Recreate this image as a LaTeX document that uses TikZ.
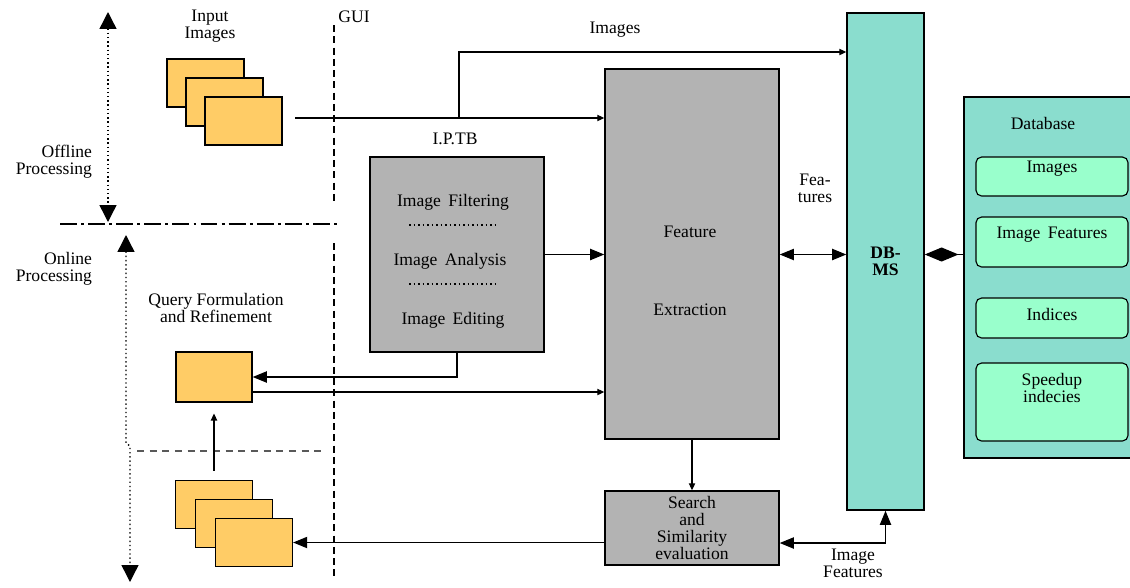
\documentclass[tikz,border=0pt]{standalone}
\usepackage{fontspec}
\setmainfont{Liberation Serif}
\usetikzlibrary{arrows.meta, positioning}
\definecolor{pageyellow}{HTML}{FFCC66}
\definecolor{boxgray}{HTML}{B3B3B3}
\definecolor{dbteal}{HTML}{8ADDCE}
\definecolor{itemgreen}{HTML}{99FFCC}
\tikzstyle{every node}=[font=\fontsize{12.5}{12}\selectfont]
\tikzstyle{page}=[draw, line width=1pt, fill=pageyellow, rectangle, inner sep=0pt, minimum width=1.92cm, minimum height=1.2cm]
\tikzstyle{block}=[draw, line width=1pt, fill=boxgray, rectangle, inner sep=0pt, align=center]
\tikzstyle{dbitem}=[draw, line width=0.8pt, fill=itemgreen, rounded corners=4pt, minimum width=3.8cm, inner sep=0pt]
\tikzstyle{arr}=[line width=0.8pt, -{Triangle[length=5pt,width=4.5pt]}]
\tikzstyle{barr}=[line width=0.8pt, -{Triangle[length=10pt,width=8pt]}]
\tikzstyle{dbarr}=[line width=0.8pt, {Triangle[length=10pt,width=8pt]}-{Triangle[length=10pt,width=8pt]}]
\tikzstyle{phase}=[dotted, line width=1pt, {Triangle[length=12pt,width=12pt,sep=0pt,fill=black]}-{Triangle[length=12pt,width=12pt,fill=black]}]

\begin{document}
\begin{tikzpicture}[x=0.025cm, y=-0.025cm]
  \useasboundingbox (0,0) rectangle (1130,587);

  % offline / online phases
  \coordinate (offtop) at (108,12);
  \coordinate (offbot) at (108,222);
  \coordinate (ontop) at (126,235);
  \coordinate (onbot) at (130,582);
  \draw[phase] (offtop) -- (offbot);
  \draw[phase] (ontop) -- (126,443) -- (130,446) -- (onbot);
  \draw[line width=1.6pt, dash pattern=on 12pt off 3pt on 2pt off 3pt] (60,224) -- (340,224);
  \node[align=right, anchor=east] (offl) at (97,162) {Offline\\Processing};
  \node[align=right, anchor=east] (onl) at (97,269) {Online\\Processing};

  % GUI border
  \draw[line width=1.2pt, dash pattern=on 5pt off 3pt] (334,25) -- (334,203);
  \draw[line width=1.2pt, dash pattern=on 5pt off 3pt] (334,243) -- (334,577);
  \node (gui) at (354,17) {GUI};
  \draw[line width=0.8pt, gray!70!black, dash pattern=on 5pt off 4pt] (137,451) -- (322,451);

  % input images
  \node[align=center] (inlbl) at (210,26) {Input\\Images};
  \node[page] (in1) at (205.5,83) {};
  \node[page] (in2) at ([shift={(19,19)}]in1) {};
  \node[page] (in3) at ([shift={(19,19)}]in2) {};

  % query images
  \node[page] (q1) at (214,504.5) {};
  \node[page] (q2) at ([shift={(20,19)}]q1) {};
  \node[page] (q3) at ([shift={(20,19)}]q2) {};
  \node[page, minimum height=1.25cm, minimum width=1.9cm] (query) at (214,377) {};
  \node[align=center] (qlbl) at (216,308) {Query Formulation\\and Refinement};

  % processing blocks
  \node (iplbl) at (455,139) {I.P.TB};
  \node[block, minimum width=4.35cm, minimum height=4.875cm] (iptb) at (457,254.5) {};
  \node (filt) at (453,202) {Image \,Filtering};
  \node (anal) at (450,261) {Image \,Analysis};
  \node (edit) at (453,320) {Image \,Editing};
  \draw[dotted, line width=1.2pt] (409,225) -- (495,225);
  \draw[dotted, line width=1.2pt] (409,284) -- (495,284);

  \node[block, minimum width=4.35cm, minimum height=9.25cm] (fe) at (692,254) {};
  \node (fe1) at (690,232) {Feature};
  \node (fe2) at (690,310) {Extraction};
  \node[block, minimum width=4.35cm, minimum height=1.85cm] (search) at (692,528)
    {Search\\and\\Similarity\\evaluation};

  % DBMS and database
  \node[draw, line width=1pt, fill=dbteal, minimum width=1.925cm, minimum height=12.425cm,
    align=center, font=\fontsize{12.5}{12}\selectfont\bfseries] (dbms) at (885.5,261.5) {DB-\\MS};
  \node[draw, line width=1pt, fill=dbteal, minimum width=4.175cm, minimum height=9.025cm] (db) at (1047.5,277.5) {};
  \node (dblbl) at (1043,123) {Database};
  \node[dbitem, minimum height=0.975cm] (dimg) at (1052,176.5) {};
  \node[below=0pt of dimg.north] {Images};
  \node[dbitem, minimum height=1.25cm] (dfeat) at (1052,242) {};
  \node[below=0.15cm of dfeat.north] {Image \,Features};
  \node[dbitem, minimum height=1cm] (didx) at (1052,318) {};
  \node[below=0.15cm of didx.north] {Indices};
  \node[dbitem, minimum height=1.95cm] (dspd) at (1052,402) {};
  \node[below=0.15cm of dspd.north, align=center] {Speedup\\indecies};

  % connectors
  \coordinate (src) at (295,118);
  \coordinate (br) at (459,118);
  \coordinate (brtop) at (459,52);
  \draw[arr] (src) -- (src -| fe.west);
  \draw[arr] (br) -- (brtop) -- (brtop -| dbms.west);
  \node (imglbl) at (615,30) {Images};
  \draw[barr] (iptb.east) -- (iptb.east -| fe.west);
  \draw[dbarr] (fe.east |- iptb.east) -- (dbms.west |- iptb.east);
  \node[align=center] (featlbl) at (815,188) {Fea-\\tures};
  \draw[line width=0.8pt, {Diamond[length=24pt,width=10pt]}-] (dbms.east |- iptb.east) -- (db.west |- iptb.east);
  \draw[barr] (iptb.south) |- (query.east);
  \coordinate (qout) at ([shift={(0,15)}]query.east);
  \draw[arr] (qout) -- (qout -| fe.west);
  \draw[arr, shorten <=0.22cm, shorten >=0.27cm] (q1.north) -- (query.south);
  \draw[arr] (fe.south) -- (search.north);
  \draw[barr] (search.west |- q3.east) -- (q3.east);
  \coordinate (sout) at ([shift={(0,15)}]search.east);
  \draw[dbarr] (sout) -| (dbms.south);
  \node[align=center] (iflbl) at (853,563) {Image\\Features};
\end{tikzpicture}
\end{document}
